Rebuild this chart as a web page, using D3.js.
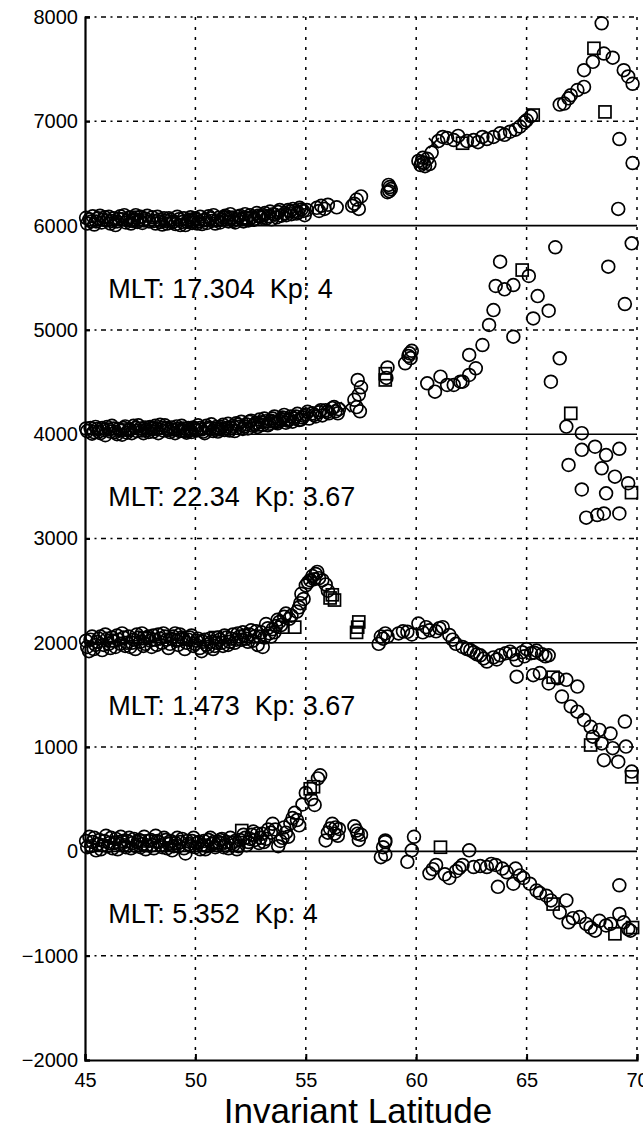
<!DOCTYPE html>
<html lang="en">
<head>
<meta charset="utf-8">
<title>Invariant Latitude passes</title>
<script src="https://cdn.jsdelivr.net/npm/d3@7"></script>
<style>
  body { margin: 0; background: #fff; }
  svg text { font-family: "Liberation Sans", Arial, Helvetica, sans-serif; fill: #000; }
</style>
</head>
<body>
<script>
// four passes, each shifted by its offset; values are [latitude, deviation]
var offsets = [6000, 4000, 2000, 0];
var mltLabels = ["17.304", "22.34", "1.473", "5.352"];
var kpLabels = ["4", "3.67", "3.67", "4"];
var xTicks = [45, 50, 55, 60, 65, 70];
var yTicks = [8000, 7000, 6000, 5000, 4000, 3000, 2000, 1000, 0, -1000, -2000];

var pass1 = [[45.1,20],[45.2,60],[45.35,90],[45.5,40],[45.6,70],[45.75,30],[45.9,80],[46.0,50],[46.15,20],[46.3,70],[46.45,40],[46.6,90],[46.7,60],[46.85,30],[47.0,75],[47.15,45],[47.3,100],[47.45,55],[47.6,25],[47.75,65],[47.9,40],[48.05,80],[48.2,20],[48.35,55],[48.5,10],[48.65,45],[48.8,70],[48.95,30],[49.1,15],[49.25,60],[49.4,35],[49.55,5],[49.7,50],[49.85,25],[50.0,70],[50.15,40],[50.3,15],[50.45,60],[50.6,90],[50.75,45],[50.9,20],[51.05,75],[51.2,55],[51.35,95],[51.5,40],[51.65,70],[51.8,30],[51.95,85],[52.1,60],[52.25,110],[52.4,50],[52.55,80],[52.7,65],[52.85,95],[53.0,75],[53.15,120],[53.3,90],[53.45,60],[53.6,105],[53.75,130],[53.9,95],[54.05,120],[54.2,150],[54.35,110],[54.5,140],[54.65,125],[54.8,155],[54.95,100],[55.5,170],[55.7,190],[55.85,160],[56.0,200],[56.4,175],[57.1,190],[57.3,250],[57.4,160],[57.5,280],[58.7,320],[58.8,370],[58.85,350],[58.75,390],[60.1,620],[60.2,580],[60.3,650],[60.35,600],[60.5,640],[60.6,590],[60.7,700],[61.0,810],[61.2,850],[61.4,840],[61.7,820],[61.9,860],[62.3,810],[62.6,820],[62.8,800],[63.0,850],[63.2,830],[63.5,850],[63.8,885],[64.0,870],[64.25,900],[64.5,920],[64.7,950],[64.9,990],[65.0,1010],[65.2,1050],[66.5,1160],[66.7,1170],[66.9,1220],[67.0,1250],[67.3,1300],[67.6,1330],[67.6,1490],[68.0,1570],[68.4,1940],[68.5,1650],[68.9,1610],[69.4,1490],[69.6,1430],[69.8,1360],[69.2,830],[69.8,600],[69.15,160]];
var pass1Dense = [[45.05,75],[45.28,40],[45.42,10],[45.68,95],[45.82,55],[46.08,85],[46.22,45],[46.38,5],[46.52,65],[46.78,100],[46.92,50],[47.08,20],[47.22,60],[47.38,35],[47.52,85],[47.68,50],[47.82,95],[48.12,45],[48.28,85],[48.42,35],[48.58,70],[48.72,20],[48.88,55],[49.02,40],[49.18,85],[49.32,5],[49.48,70],[49.62,35],[49.78,80],[49.92,45],[50.08,20],[50.22,85],[50.38,50],[50.52,25],[50.68,70],[50.82,100],[50.98,50],[51.12,30],[51.28,80],[51.42,60],[51.58,110],[51.72,45],[51.88,60],[52.02,95],[52.18,40],[52.32,75],[52.48,100],[52.62,55],[52.78,120],[52.92,85],[53.08,100],[53.22,70],[53.38,135],[53.52,110],[53.68,80],[53.82,150],[54.12,100],[54.28,135],[54.42,160],[54.58,115],[54.72,170],[54.88,140],[55.05,150],[55.6,140],[57.2,210],[58.78,330],[60.25,610],[60.4,570]];
var pass1Sq = [[47.2,80],[49.9,60],[51.5,80],[52.3,70],[62.1,790],[65.3,1060],[68.05,1700],[68.55,1090]];
var pass1X = [[60.8,790]];

var pass2 = [[45.1,30],[45.25,60],[45.4,20],[45.55,50],[45.7,10],[45.85,40],[46.0,70],[46.15,25],[46.3,55],[46.45,0],[46.6,35],[46.75,60],[46.9,15],[47.05,45],[47.2,80],[47.35,30],[47.5,55],[47.65,10],[47.8,40],[47.95,70],[48.1,25],[48.25,50],[48.4,90],[48.55,35],[48.7,60],[48.85,20],[49.0,45],[49.15,75],[49.3,30],[49.45,55],[49.6,15],[49.75,40],[49.9,65],[50.05,35],[50.2,60],[50.35,25],[50.5,80],[50.65,50],[50.8,30],[50.95,70],[51.1,45],[51.25,90],[51.4,60],[51.55,35],[51.7,80],[51.85,105],[52.0,70],[52.15,50],[52.3,95],[52.45,120],[52.6,80],[52.75,110],[52.9,140],[53.05,90],[53.2,125],[53.35,100],[53.5,150],[53.65,115],[53.8,130],[53.95,160],[54.1,110],[54.25,145],[54.4,120],[54.55,170],[54.7,135],[54.85,160],[55.0,190],[55.15,150],[55.3,200],[55.45,170],[55.6,210],[55.75,180],[55.9,230],[56.05,200],[56.2,250],[56.35,220],[56.5,240],[57.2,330],[57.3,260],[57.35,520],[57.4,380],[57.5,450],[58.7,640],[59.5,680],[59.65,750],[59.7,775],[59.75,730],[59.8,800],[60.5,488],[60.85,408],[61.1,552],[61.4,472],[61.7,472],[62.0,503],[62.1,503],[62.4,568],[62.7,632],[62.4,760],[63.0,855],[63.3,1047],[63.5,1190],[63.6,1421],[64.0,1389],[64.4,1430],[63.8,1654],[65.1,1517],[65.5,1324],[66.0,1184],[65.3,1110],[64.4,935],[66.3,1792],[69.76,1830],[68.7,1606],[69.45,1248],[66.5,727],[66.1,503],[66.8,73],[67.5,10],[66.9,-295],[67.5,-150],[68.1,-120],[68.6,-200],[69.2,-140],[68.4,-327],[69.0,-407],[69.6,-470],[67.5,-530],[68.6,-567],[67.7,-800],[68.2,-775],[68.5,-760],[69.2,-760]];
var pass2Dense = [[45.05,55],[45.32,5],[45.48,70],[45.62,25],[45.78,60],[45.92,-10],[46.08,45],[46.22,80],[46.38,20],[46.52,50],[46.68,-5],[46.82,75],[46.98,40],[47.12,10],[47.28,60],[47.42,85],[47.58,35],[47.72,65],[47.88,20],[48.02,50],[48.18,80],[48.32,10],[48.48,60],[48.62,85],[48.78,40],[48.92,65],[49.08,10],[49.22,50],[49.38,80],[49.52,35],[49.68,60],[49.82,20],[49.98,50],[50.12,85],[50.28,45],[50.42,10],[50.58,60],[50.72,95],[50.88,55],[51.02,25],[51.18,70],[51.32,40],[51.48,100],[51.62,60],[51.78,30],[51.92,90],[52.08,120],[52.22,75],[52.38,55],[52.52,130],[52.68,95],[52.82,70],[52.98,115],[53.12,150],[53.28,85],[53.42,130],[53.58,170],[53.72,105],[53.88,145],[54.02,185],[54.18,130],[54.32,170],[54.48,150],[54.62,195],[54.78,140],[54.92,175],[55.08,215],[55.38,185],[55.68,230],[55.98,215],[56.28,260],[56.45,200],[57.45,220],[58.65,540]];
var pass2Sq = [[46.8,40],[48.0,60],[49.5,30],[51.0,50],[52.8,90],[53.6,120],[54.0,140],[58.6,520],[58.6,580],[64.8,1574],[67.0,200],[69.75,-560]];
var pass2X = [[56.8,260]];

var pass3 = [[45.1,-40],[45.25,30],[45.4,-60],[45.55,10],[45.7,60],[45.85,-20],[46.0,40],[46.15,-50],[46.3,20],[46.45,70],[46.6,-10],[46.75,50],[46.9,0],[47.05,-40],[47.2,30],[47.35,80],[47.5,10],[47.65,-30],[47.8,50],[47.95,20],[48.1,70],[48.25,-20],[48.4,40],[48.55,90],[48.7,30],[48.85,-10],[49.0,60],[49.15,20],[49.3,80],[49.45,40],[49.6,0],[49.75,50],[49.9,-30],[50.05,20],[50.2,-50],[50.35,10],[50.5,-20],[50.65,40],[50.8,-60],[50.95,0],[51.1,30],[51.25,-30],[51.4,50],[51.55,10],[51.7,80],[51.85,30],[52.0,60],[52.15,100],[52.3,40],[52.45,80],[52.6,20],[52.75,110],[52.9,60],[53.05,-40],[53.2,180],[53.35,90],[53.5,130],[53.65,160],[53.8,200],[54.1,280],[54.25,230],[54.6,300],[54.7,340],[54.8,470],[54.9,420],[55.0,550],[55.2,600],[55.3,640],[55.45,660],[55.6,620],[55.75,600],[55.9,560],[56.0,500],[58.3,-10],[58.4,60],[58.6,90],[58.7,60],[59.2,90],[59.6,105],[59.8,80],[60.1,185],[60.3,100],[60.6,120],[60.9,110],[61.2,150],[61.5,75],[61.8,-10],[62.1,-40],[62.3,-60],[62.6,-90],[62.9,-120],[63.2,-180],[63.5,-140],[63.8,-120],[64.05,-100],[64.25,-85],[64.55,-165],[64.8,-90],[65.0,-60],[65.2,-100],[65.45,-75],[65.7,-110],[66.0,-120],[64.55,-325],[65.3,-310],[65.6,-290],[66.0,-390],[66.4,-340],[66.8,-355],[67.3,-420],[66.6,-515],[67.0,-610],[67.3,-660],[67.6,-740],[67.9,-805],[68.3,-835],[68.8,-870],[68.0,-900],[68.4,-965],[68.9,-1010],[69.5,-995],[69.45,-755],[68.5,-1125],[69.15,-1140],[69.76,-1235]];
var pass3Dense = [[45.05,20],[45.18,-80],[45.32,60],[45.48,-20],[45.62,40],[45.78,-70],[45.92,80],[46.08,-10],[46.22,50],[46.38,-40],[46.52,30],[46.68,90],[46.82,-30],[46.98,60],[47.12,0],[47.28,-60],[47.42,50],[47.58,90],[47.72,-10],[47.88,60],[48.02,-40],[48.18,30],[48.32,80],[48.48,0],[48.62,60],[48.78,-50],[48.92,40],[49.08,90],[49.22,-20],[49.38,50],[49.52,-60],[49.68,30],[49.82,70],[49.98,-10],[50.12,40],[50.28,-80],[50.42,30],[50.58,-40],[50.72,10],[50.88,-30],[51.02,50],[51.18,0],[51.32,70],[51.48,-20],[51.62,40],[51.78,0],[51.92,90],[52.08,30],[52.22,70],[52.38,10],[52.52,120],[52.68,60],[52.82,-20],[52.98,100],[53.12,50],[53.28,140],[53.42,60],[53.58,100],[53.72,220],[53.88,170],[54.02,250],[54.35,260],[54.75,380],[55.1,580],[55.38,610],[55.52,680],[58.5,40],[59.4,110],[60.45,150],[61.05,140],[61.65,30],[62.45,-70],[62.75,-110],[63.05,-150],[63.65,-160],[64.4,-110],[64.9,-130],[65.35,-95],[65.85,-130]];
var pass3Sq = [[46.2,20],[47.7,40],[49.2,30],[50.9,50],[53.95,150],[54.5,150],[56.1,430],[56.2,460],[56.3,410],[57.3,100],[57.35,150],[57.4,200],[66.2,-330],[67.9,-980],[69.76,-1285]];
var pass3X = [[55.2,600]];

var pass4 = [[45.1,40],[45.2,140],[45.35,90],[45.5,10],[45.65,110],[45.8,60],[45.95,150],[46.1,80],[46.25,30],[46.4,120],[46.55,70],[46.7,100],[46.85,40],[47.0,130],[47.15,80],[47.3,50],[47.45,110],[47.6,70],[47.75,20],[47.9,100],[48.05,60],[48.2,150],[48.35,90],[48.5,40],[48.65,110],[48.8,70],[48.95,10],[49.1,80],[49.25,50],[49.4,120],[49.55,-20],[49.7,70],[49.85,100],[50.0,40],[50.15,90],[50.3,60],[50.45,20],[50.6,110],[50.75,70],[50.9,40],[51.05,90],[51.2,120],[51.35,60],[51.5,30],[51.65,80],[51.8,100],[51.95,50],[52.25,130],[52.4,90],[52.55,160],[52.7,110],[52.8,170],[52.95,130],[53.1,90],[53.3,210],[53.5,265],[53.75,50],[53.95,130],[54.1,180],[54.3,270],[54.5,370],[54.7,250],[55.0,560],[55.4,445],[55.55,700],[55.65,730],[55.9,105],[56.0,180],[56.2,265],[56.3,170],[56.5,215],[56.35,230],[57.2,240],[57.5,160],[57.4,110],[57.3,200],[58.6,90],[58.6,-30],[58.4,-55],[58.6,105],[59.6,-100],[59.8,10],[59.9,140],[62.4,10],[60.9,-130],[60.6,-210],[61.5,-255],[61.8,-190],[62.1,-130],[62.6,-150],[63.2,-150],[63.6,-130],[63.9,-165],[64.5,-165],[63.7,-340],[64.4,-310],[64.85,-255],[65.15,-310],[65.45,-375],[65.9,-425],[66.8,-470],[66.5,-585],[66.9,-680],[67.4,-630],[67.7,-695],[68.1,-760],[68.3,-665],[68.8,-695],[69.2,-600],[69.6,-745],[69.2,-325]];
var pass4Dense = [[45.05,100],[45.28,50],[45.42,130],[45.58,70],[45.72,20],[45.88,100],[46.02,50],[46.18,130],[46.32,80],[46.48,20],[46.62,140],[46.78,60],[46.92,100],[47.08,30],[47.22,120],[47.38,90],[47.52,40],[47.68,140],[47.82,60],[47.98,110],[48.12,30],[48.28,100],[48.42,60],[48.58,130],[48.72,30],[48.88,100],[49.02,50],[49.18,130],[49.32,90],[49.48,30],[49.62,100],[49.78,50],[49.92,130],[50.08,80],[50.22,20],[50.38,100],[50.52,50],[50.68,130],[50.82,90],[50.98,60],[51.12,110],[51.28,40],[51.42,90],[51.58,130],[51.72,60],[51.88,20],[52.02,110],[52.18,160],[52.32,60],[52.48,120],[52.62,190],[52.88,80],[53.02,170],[53.2,120],[53.42,180],[53.62,210],[53.85,100],[54.02,230],[54.2,140],[54.4,320],[54.6,300],[54.85,450],[55.25,500],[56.1,220],[56.45,150],[57.35,170],[58.5,40],[60.75,-170],[61.3,-220],[61.95,-160],[62.9,-140],[63.4,-120],[64.1,-200],[64.7,-230],[65.6,-400],[66.1,-470],[67.1,-640],[67.9,-730],[68.6,-710],[69.4,-680],[69.7,-760]];
var pass4Sq = [[46.6,90],[47.5,100],[48.9,80],[50.4,60],[51.1,80],[52.1,200],[55.2,600],[55.35,620],[61.1,40],[66.2,-505],[69.0,-790],[69.8,-730]];
var pass4X = [[50.1,70]];

var passes = [pass1.concat(pass1Dense), pass2.concat(pass2Dense), pass3.concat(pass3Dense), pass4.concat(pass4Dense)];
var passesSq = [pass1Sq, pass2Sq, pass3Sq, pass4Sq];
var passesX = [pass1X, pass2X, pass3X, pass4X];

var width = 643, height = 1129;
var plotLeft = 85, plotRight = 637, plotTop = 17, plotBottom = 1060;

var x = d3.scaleLinear().domain([45, 70]).range([plotLeft, plotRight]);
var y = d3.scaleLinear().domain([-2000, 8000]).range([plotBottom, plotTop]);

var svg = d3.select("body").append("svg")
    .attr("width", width)
    .attr("height", height);

// dotted grid
svg.append("g").selectAll("line")
    .data(yTicks.filter(function(d) { return offsets.indexOf(d) < 0 && d > -2000; }))
    .enter().append("line")
    .attr("x1", plotLeft).attr("x2", plotRight)
    .attr("y1", function(d) { return y(d); })
    .attr("y2", function(d) { return y(d); })
    .attr("stroke", "#000")
    .attr("stroke-width", 1.5)
    .attr("stroke-dasharray", "5,4.5,2,4.5");

svg.append("g").selectAll("line")
    .data(xTicks.slice(1))
    .enter().append("line")
    .attr("x1", function(d) { return x(d); })
    .attr("x2", function(d) { return x(d); })
    .attr("y1", plotTop).attr("y2", plotBottom)
    .attr("stroke", "#000")
    .attr("stroke-width", 1.5)
    .attr("stroke-dasharray", "3,7");

// baseline of each pass
svg.append("g").selectAll("line")
    .data(offsets)
    .enter().append("line")
    .attr("x1", plotLeft).attr("x2", plotRight)
    .attr("y1", function(d) { return y(d); })
    .attr("y2", function(d) { return y(d); })
    .attr("stroke", "#000")
    .attr("stroke-width", 1.6);

// axes, inward ticks
var yAxis = svg.append("g")
    .attr("transform", "translate(" + plotLeft + ",0)")
    .call(d3.axisLeft(y).tickValues(yTicks).tickSize(-5).tickPadding(7)
        .tickFormat(function(d) { return d < 0 ? "\u2212" + Math.abs(d) : d; }));
var xAxis = svg.append("g")
    .attr("transform", "translate(0," + plotBottom + ")")
    .call(d3.axisBottom(x).tickValues(xTicks).tickSize(-6).tickPadding(13));

[xAxis, yAxis].forEach(function(a) {
    a.select(".domain").attr("stroke", "#000").attr("stroke-width", 2.2);
    a.selectAll(".tick line").attr("stroke", "#000").attr("stroke-width", 2);
    a.selectAll("text").style("font-size", "20px").attr("fill", "#000");
});

// markers
var marks = svg.append("g").attr("fill", "none").attr("stroke", "#000").attr("stroke-width", 1.7);

passes.forEach(function(p, i) {
    marks.append("g").selectAll("circle")
        .data(p)
        .enter().append("circle")
        .attr("cx", function(d) { return x(d[0]); })
        .attr("cy", function(d) { return y(offsets[i] + d[1]); })
        .attr("r", 6.4);

    marks.append("g").selectAll("rect")
        .data(passesSq[i])
        .enter().append("rect")
        .attr("x", function(d) { return x(d[0]) - 6; })
        .attr("y", function(d) { return y(offsets[i] + d[1]) - 6; })
        .attr("width", 12).attr("height", 12);

    marks.append("g").selectAll("path")
        .data(passesX[i])
        .enter().append("path")
        .attr("d", function(d) {
            var cx = x(d[0]), cy = y(offsets[i] + d[1]);
            return "M" + (cx - 5) + "," + (cy - 5) + "L" + (cx + 5) + "," + (cy + 5) +
                   "M" + (cx - 5) + "," + (cy + 5) + "L" + (cx + 5) + "," + (cy - 5);
        });
});

// pass annotations
svg.append("g").selectAll("text")
    .data(offsets)
    .enter().append("text")
    .attr("x", x(46.05))
    .attr("y", function(d) { return y(d - 690); })
    .attr("xml:space", "preserve")
    .style("font-size", "27px")
    .text(function(d, i) { return "MLT: " + mltLabels[i] + "  Kp: " + kpLabels[i]; });

svg.append("text")
    .attr("x", (plotLeft + plotRight) / 2 - 3)
    .attr("y", 1123)
    .attr("text-anchor", "middle")
    .style("font-size", "35px")
    .text("Invariant Latitude");
</script>
</body>
</html>
